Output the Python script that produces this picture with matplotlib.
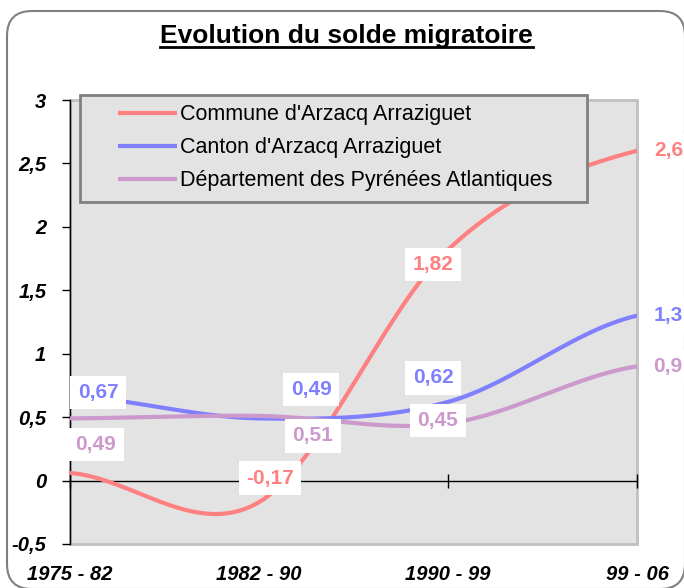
import numpy as np
import matplotlib
matplotlib.use("Agg")
import matplotlib.pyplot as plt
from matplotlib.patches import FancyBboxPatch, Rectangle
from matplotlib.lines import Line2D
from matplotlib.ticker import FuncFormatter

periodes = ["1975 - 82", "1982 - 90", "1990 - 99", "99 - 06"]
commune = [0.06, -0.17, 1.82, 2.6]
canton = [0.67, 0.49, 0.62, 1.3]
departement = [0.49, 0.51, 0.45, 0.9]
noms = ["Commune d'Arzacq Arraziguet", "Canton d'Arzacq Arraziguet",
        "Département des Pyrénées Atlantiques"]
couleurs = ["#FF8080", "#8080FF", "#CC99CC"]

# décalages des étiquettes (pixels), None = pas d'étiquette
decal_commune = [None, (11, 24), (-15, -15), (32, 0)]
decal_canton = [(28, 3), (52, 29), (-15, 24), (31, 0)]
decal_dept = [(26, -26), (54, -20), (-10, 3), (31, 0)]

plt.rcParams['font.family'] = ['Liberation Sans', 'DejaVu Sans']


def lisse(vals, n=60):
    # courbe lissée type Excel (Catmull-Rom)
    xs, ys = [], []
    k = len(vals)
    for i in range(k - 1):
        p0 = vals[i]
        p1 = vals[i + 1]
        pa = vals[i - 1] if i > 0 else vals[i]
        pb = vals[i + 2] if i + 2 < k else vals[i + 1]
        m0 = (p1 - pa) / 2
        m1 = (pb - p0) / 2
        t = np.linspace(0, 1, n, endpoint=(i == k - 2))
        h00 = 2 * t**3 - 3 * t**2 + 1
        h10 = t**3 - 2 * t**2 + t
        h01 = -2 * t**3 + 3 * t**2
        h11 = t**3 - t**2
        xs.extend(i + t)
        ys.extend(h00 * p0 + h10 * m0 + h01 * p1 + h11 * m1)
    return np.array(xs), np.array(ys)


fig = plt.figure(figsize=(6.84, 5.88), dpi=100)

# cadre arrondi
cadre = FancyBboxPatch((0.07, -0.01), 6.78, 5.78,
                       boxstyle="round,pad=0,rounding_size=0.25",
                       transform=fig.dpi_scale_trans, facecolor="none",
                       edgecolor="#808080", linewidth=1.5, zorder=-1)
fig.patches.append(cadre)

ax = fig.add_axes([70 / 684, 44 / 588, 567 / 684, 444 / 588])
ax.set_facecolor("#E3E3E3")
ax.add_patch(Rectangle((0, 0), 1, 1, transform=ax.transAxes, fill=False,
                       edgecolor="#C0C0C0", linewidth=2, zorder=1, clip_on=False))

series = [commune, canton, departement]
decals = [decal_commune, decal_canton, decal_dept]
x = np.arange(len(periodes))
for vals, nom, c, dec in zip(series, noms, couleurs, decals):
    xs, ys = lisse(vals)
    ax.plot(xs, ys, color=c, linewidth=3, label=nom, zorder=3, solid_capstyle="butt")
    for xi, v, d in zip(x, vals, dec):
        if d is None:
            continue
        ax.annotate(f"{v:g}".replace(".", ","), (xi, v), xytext=d,
                    textcoords="offset pixels", ha="center", va="center",
                    fontsize=15, fontweight="bold", color=c, zorder=5,
                    annotation_clip=False,
                    bbox=dict(boxstyle="square,pad=0.35", fc="white", ec="none"))

ax.set_xlim(0, 3)
ax.set_ylim(-0.5, 3)
ax.set_yticks(np.arange(-0.5, 3.01, 0.5))
ax.yaxis.set_major_formatter(FuncFormatter(lambda v, p: f"{v:g}".replace(".", ",")))
ax.tick_params(axis="y", direction="out", length=6, width=1, pad=11)
for lab in ax.get_yticklabels():
    lab.set_fontsize(14.5)
    lab.set_fontweight("bold")
    lab.set_fontstyle("italic")

ax.set_xticks(x)
ax.tick_params(axis="x", direction="inout", length=10, width=1, labelbottom=False)
ax.spines["bottom"].set_position(("data", 0))
ax.spines["bottom"].set_linewidth(1)
ax.spines["left"].set_linewidth(1)
ax.spines["top"].set_visible(False)
ax.spines["right"].set_visible(False)

for xi, p in zip(x, periodes):
    ax.annotate(p, (xi, 0), xycoords=("data", "axes fraction"), xytext=(0, -30),
                textcoords="offset pixels", ha="center", va="center",
                fontsize=14.5, fontweight="bold", fontstyle="italic",
                annotation_clip=False)

# cadre de la légende
ax.add_patch(Rectangle((80 / 684, 1 - 202 / 588), 507 / 684, 107 / 588,
                       transform=fig.transFigure, facecolor="#E3E3E3",
                       edgecolor="#808080", linewidth=2, zorder=6, clip_on=False))
leg = ax.legend(loc="upper left", bbox_to_anchor=(112 / 684, 1 - 98 / 588),
                bbox_transform=fig.transFigure, borderaxespad=0, fontsize=15.5,
                handlelength=2.7, handletextpad=0.15, labelspacing=0.55,
                borderpad=0.3, frameon=False)
leg.set_zorder(7)

titre = fig.text(346.5 / 684, 1 - 43 / 588, "Evolution du solde migratoire",
                 ha="center", va="baseline", fontsize=19, fontweight="bold")
fig.canvas.draw()
bb = titre.get_window_extent()
fig.add_artist(Line2D([bb.x0, bb.x1], [bb.y0 + 1, bb.y0 + 1], color="black",
                      linewidth=2, transform=None))

fig.savefig("out.png", dpi=100)
